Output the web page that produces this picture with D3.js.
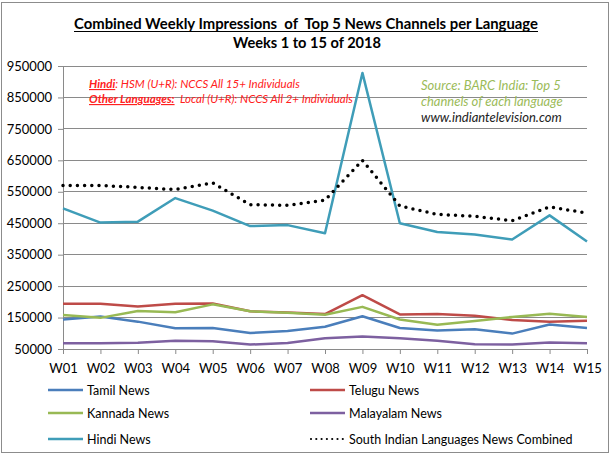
<!DOCTYPE html>
<html><head><meta charset="utf-8">
<script src="https://cdn.jsdelivr.net/npm/d3@7"></script>
<style>body{margin:0;background:#fff}svg{display:block;font-family:Lato,"Open Sans",sans-serif}</style>
</head><body><svg id="c" width="611" height="460"></svg>
<script>
const weeks = ["W01","W02","W03","W04","W05","W06","W07","W08","W09","W10","W11","W12","W13","W14","W15"];
const tamil = [144000,153000,137000,116000,117000,101000,107000,121000,154000,117000,109000,113000,99000,128000,117000];
const telugu = [194000,194000,185000,194000,195000,170000,166000,161000,221000,160000,161000,156000,142000,137000,140000];
const kannada = [158000,149000,171000,167000,192000,170000,165000,159000,184000,144000,127000,139000,152000,162000,152000];
const malayalam = [68000,68000,70000,76000,75000,64000,69000,84000,90000,84000,76000,65000,64000,71000,68000];
const hindi = [497000,452000,455000,530000,490000,441000,444000,418000,928000,450000,422000,414000,398000,475000,392000];
const combined = [570000,570000,564000,557000,578000,509000,507000,523000,650000,505000,478000,472000,458000,502000,482000];
const yTicks = [50000,150000,250000,350000,450000,550000,650000,750000,850000,950000];
const seriesNames = ["Tamil News","Telugu News","Kannada News","Malayalam News","Hindi News","South Indian Languages News Combined"];
const seriesColors = ["#4A7EBB","#BE4B48","#98B954","#7D60A0","#3F9DB8","#000000"];

const svg = d3.select("#c");
svg.append("rect").attr("x",1.5).attr("y",2.5).attr("width",607).attr("height",450)
  .attr("fill","#fff").attr("stroke","#8c8c8c").attr("stroke-width",1);

const L=63, R=587, T=66, B=349;
const x = d3.scalePoint().domain(weeks).range([L,R]);
const y = d3.scaleLinear().domain([50000,950000]).range([B,T]);

// gridlines
svg.append("g").selectAll("line").data(yTicks).join("line")
  .attr("x1",L).attr("x2",R).attr("y1",d=>y(d)).attr("y2",d=>y(d))
  .attr("stroke","#8a8a8a").attr("stroke-width",1).attr("shape-rendering","crispEdges");

// y axis
const ya = svg.append("g").attr("transform",`translate(${L},0)`)
  .call(d3.axisLeft(y).tickValues(yTicks).tickSize(5).tickPadding(6).tickFormat(d3.format("d")));
ya.select(".domain").attr("stroke","#8a8a8a");
ya.selectAll(".tick line").attr("stroke","#8a8a8a");
ya.selectAll("text").attr("font-size",13).attr("fill","#000").attr("font-family","Lato");

// x axis
const xa = svg.append("g").attr("transform",`translate(0,${B})`)
  .call(d3.axisBottom(x).tickSize(5).tickPadding(10).tickSizeOuter(0));
xa.select(".domain").attr("stroke","#8a8a8a");
xa.selectAll(".tick line").attr("stroke","#8a8a8a");
xa.selectAll("text").attr("font-size",13).attr("fill","#000").attr("font-family","Lato");

const allSeries = [tamil,telugu,kannada,malayalam,hindi,combined];
const line = d3.line().x((d,i)=>x(weeks[i])).y(d=>y(d));
allSeries.forEach((s,k)=>{
  const p = svg.append("path").datum(s).attr("d",line).attr("fill","none")
    .attr("stroke",seriesColors[k]).attr("stroke-linejoin","round");
  if(k===5){ p.attr("stroke-width",3.5).attr("stroke-dasharray","0 7.2").attr("stroke-linecap","round"); }
  else p.attr("stroke-width",2.5);
});

// title
svg.append("text").attr("x",74).attr("y",28.5).attr("font-size",14.5).attr("font-weight","bold")
  .attr("textLength",464).attr("lengthAdjust","spacingAndGlyphs")
  .text("Combined Weekly Impressions  of  Top 5 News Channels per Language").style("white-space","pre");
svg.append("line").attr("x1",74).attr("x2",538).attr("y1",31.5).attr("y2",31.5).attr("stroke","#000").attr("stroke-width",1);
svg.append("text").attr("x",233).attr("y",48).attr("font-size",14.5).attr("font-weight","bold")
  .attr("textLength",148).attr("lengthAdjust","spacingAndGlyphs").text("Weeks 1 to 15 of 2018");

// annotation
const a1 = svg.append("text").attr("x",89).attr("y",88).attr("font-size",11.5).attr("font-style","italic").attr("fill","#FF2020");
a1.append("tspan").attr("font-weight","bold").attr("text-decoration","underline").text("Hindi");
a1.append("tspan").text(": HSM (U+R): NCCS All 15+ Individuals");
const a2 = svg.append("text").attr("x",89).attr("y",103).attr("font-size",11.5).attr("font-style","italic").attr("fill","#FF2020").style("white-space","pre");
a2.append("tspan").attr("font-weight","bold").attr("text-decoration","underline").text("Other Languages:");
a2.append("tspan").text("  Local (U+R): NCCS All 2+ Individuals");

// source
svg.append("text").attr("x",421).attr("y",90).attr("font-size",13).attr("font-style","italic").attr("fill","#9BBB59").text("Source: BARC India: Top 5");
svg.append("text").attr("x",421).attr("y",106).attr("font-size",13).attr("font-style","italic").attr("fill","#9BBB59").text("channels of each language");
svg.append("text").attr("x",421).attr("y",122).attr("font-size",13).attr("font-style","italic").attr("fill","#222").text("www.indiantelevision.com");

// legend
const legPos = [[48,390],[310,390],[48,413],[310,413],[48,439],[310,439]];
seriesNames.forEach((n,k)=>{
  const [lx,ly]=legPos[k];
  const l = svg.append("line").attr("x1",lx).attr("x2",lx+35).attr("y1",ly).attr("y2",ly).attr("stroke",seriesColors[k]);
  if(k===5) l.attr("stroke-width",2.2).attr("stroke-dasharray","0 5.3").attr("stroke-linecap","round").attr("x1",lx+1);
  else l.attr("stroke-width",2.5);
  svg.append("text").attr("x",lx+39).attr("y",ly+4.5).attr("font-size",12.5).attr("fill","#000").text(n);
});
</script></body></html>
